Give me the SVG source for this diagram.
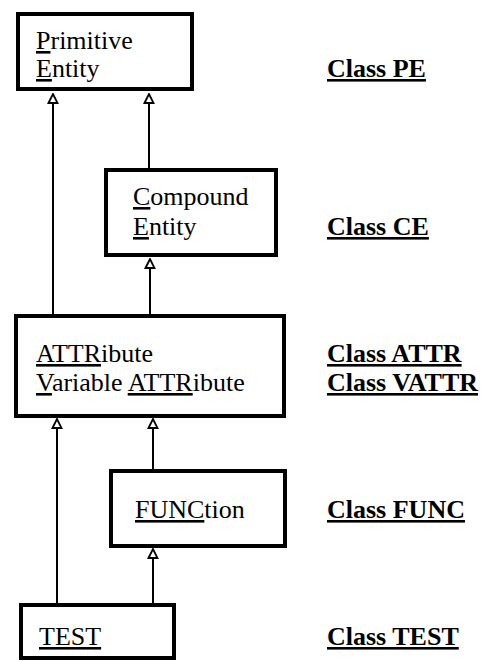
<svg xmlns="http://www.w3.org/2000/svg" width="494" height="661" viewBox="0 0 494 661">
<style>
.box{fill:#fff;stroke:#000;stroke-width:4}
.t{font-family:"Liberation Serif","Times New Roman",serif;font-size:26px;fill:#000}
.c{font-family:"Liberation Serif","Times New Roman",serif;font-size:26px;font-weight:bold;fill:#000;text-decoration:underline}
.u{text-decoration:underline}
.con{stroke:#000;stroke-width:2;fill:none;marker-end:url(#tri)}
</style>
<defs>
<marker id="tri" markerUnits="userSpaceOnUse" markerWidth="12" markerHeight="12" viewBox="0 0 12 12" refX="11" refY="6" orient="auto">
<path d="M2,1.5 L11,6 L2,10.5 Z" fill="#fff" stroke="#000" stroke-width="1.8"/>
</marker>
</defs>
<rect width="494" height="661" fill="#fff"/>
<g id="connectors">
<line class="con" x1="53" y1="316" x2="53" y2="94"/>
<line class="con" x1="149" y1="168" x2="149" y2="94"/>
<line class="con" x1="150" y1="316" x2="150" y2="259"/>
<line class="con" x1="57" y1="603" x2="57" y2="419"/>
<line class="con" x1="153" y1="469" x2="153" y2="419"/>
<line class="con" x1="153" y1="603" x2="153" y2="549"/>
</g>
<g id="pe">
<rect class="box" x="18" y="14" width="174" height="75"/>
<text class="t" x="36" y="49"><tspan class="u">P</tspan>rimitive</text>
<text class="t" x="36" y="77"><tspan class="u">E</tspan>ntity</text>
</g>
<g id="ce">
<rect class="box" x="106" y="170" width="170" height="85"/>
<text class="t" x="133" y="205"><tspan class="u">C</tspan>ompound</text>
<text class="t" x="133" y="235"><tspan class="u">E</tspan>ntity</text>
</g>
<g id="attr">
<rect class="box" x="16" y="316" width="268" height="100"/>
<text class="t" x="36" y="362"><tspan class="u">ATTR</tspan>ibute</text>
<text class="t" x="36" y="391"><tspan class="u">V</tspan>ariable <tspan class="u">ATTR</tspan>ibute</text>
</g>
<g id="func">
<rect class="box" x="111" y="471" width="174" height="75"/>
<text class="t" x="135" y="518"><tspan class="u">FUNC</tspan>tion</text>
</g>
<g id="test">
<rect class="box" x="21" y="605" width="153" height="53"/>
<text class="t" x="39" y="645"><tspan class="u">TEST</tspan></text>
</g>
<g id="labels">
<text class="c" x="327" y="77">Class PE</text>
<text class="c" x="327" y="235">Class CE</text>
<text class="c" x="327" y="362">Class ATTR</text>
<text class="c" x="327" y="391">Class VATTR</text>
<text class="c" x="327" y="518">Class FUNC</text>
<text class="c" x="327" y="645">Class TEST</text>
</g>
</svg>
